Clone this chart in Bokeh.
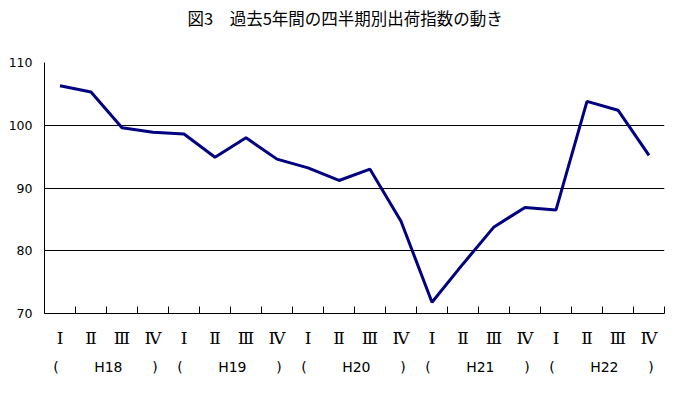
from bokeh.plotting import figure
from bokeh.models import LinearAxis, FixedTicker, Range1d
from bokeh.embed import file_html
from bokeh.resources import INLINE

title_text = "図3　過去5年間の四半期別出荷指数の動き"
quarters = ["Ⅰ", "Ⅱ", "Ⅲ", "Ⅳ"]
years = ["H18", "H19", "H20", "H21", "H22"]
values = [106.3, 105.3, 99.6, 98.9, 98.6, 94.9, 98.0, 94.6, 93.2, 91.2,
          93.0, 84.7, 71.8, 77.9, 83.8, 86.9, 86.5, 103.8, 102.4, 95.2]
y_ticks = [70, 80, 90, 100, 110]

n = len(values)
xs = [i + 0.5 for i in range(n)]

p = figure(width=675, height=378, x_range=Range1d(0, n), y_range=Range1d(70, 110),
           output_backend="svg", toolbar_location=None,
           min_border_left=44, min_border_right=11, min_border_top=62, min_border_bottom=65,
           x_axis_type=None)
p.outline_line_color = None
p.background_fill_color = "white"
p.border_fill_color = "white"

# title: a second (blank) line keeps the visible line near the top of the page
p.title.text = title_text + "\n "
p.title.align = "left"
p.title.vertical_align = "top"
p.title.offset = 143
p.title.standoff = 0
p.title.text_line_height = 1.3
p.title.text_font = "Noto Sans CJK JP"
p.title.text_font_size = "16.5px"
p.title.text_font_style = "normal"
p.title.text_color = "black"

# y axis
p.yaxis.ticker = FixedTicker(ticks=y_ticks)
p.yaxis.major_tick_out = 0
p.yaxis.major_tick_in = 0
p.yaxis.minor_tick_out = 0
p.yaxis.minor_tick_in = 0
p.yaxis.axis_line_color = "black"
p.yaxis.major_label_standoff = 12
p.yaxis.major_label_text_font = "DejaVu Sans"
p.yaxis.major_label_text_font_size = "12.5px"
p.yaxis.major_label_text_color = "black"

p.ygrid.ticker = FixedTicker(ticks=y_ticks[1:])
p.ygrid.grid_line_color = "black"
p.ygrid.grid_line_width = 1
p.xgrid.grid_line_color = None

# x axis row 1: quarters, with boundary ticks
q_labels = {x: quarters[i % 4] for i, x in enumerate(xs)}
ax1 = LinearAxis(ticker=FixedTicker(ticks=xs, minor_ticks=list(range(n + 1))),
                 major_label_overrides=q_labels)
ax1.major_tick_in = 0
ax1.major_tick_out = 0
ax1.minor_tick_in = 7
ax1.minor_tick_out = 0
ax1.minor_tick_line_color = "black"
ax1.axis_line_color = "black"
ax1.major_label_standoff = 14
ax1.major_label_text_font = "DejaVu Serif"
ax1.major_label_text_font_size = "17px"
ax1.major_label_text_color = "black"
p.add_layout(ax1, "below")

# x axis row 2: fiscal years in parentheses
y_pos = []
y_lab = {}
for k, yr in enumerate(years):
    a, b, c = 4 * k + 0.37, 4 * k + 2.06, 4 * k + 3.56
    y_pos += [a, b, c]
    y_lab[a] = "("
    y_lab[b] = yr
    y_lab[c] = ")"
ax2 = LinearAxis(ticker=FixedTicker(ticks=y_pos), major_label_overrides=y_lab)
ax2.axis_line_color = None
ax2.major_tick_in = 0
ax2.major_tick_out = 0
ax2.minor_tick_in = 0
ax2.minor_tick_out = 0
ax2.major_label_standoff = 8
ax2.major_label_text_font = "DejaVu Sans"
ax2.major_label_text_font_size = "14px"
ax2.major_label_text_color = "black"
p.add_layout(ax2, "below")

p.line(xs, values, line_color="#000080", line_width=3)

open("out.html", "w").write(file_html(p, INLINE))
